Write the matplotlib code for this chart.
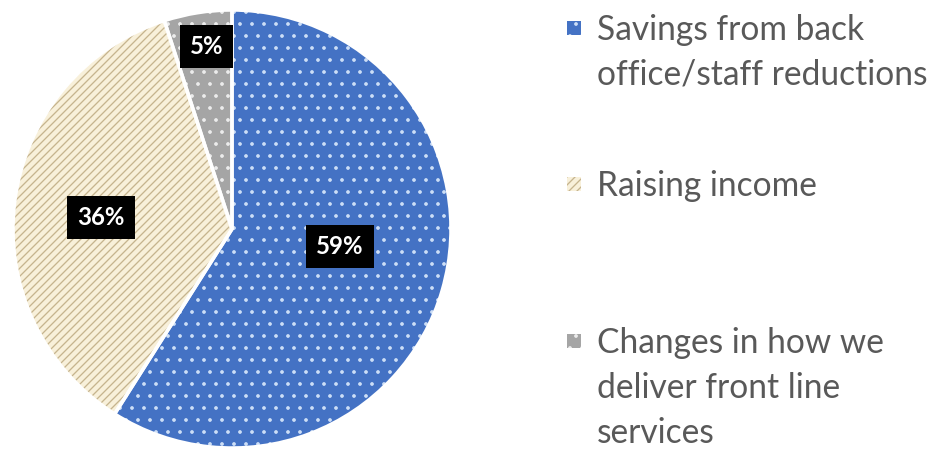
import matplotlib
matplotlib.use("Agg")
import matplotlib.pyplot as plt
import numpy as np
from matplotlib.patches import Rectangle

# ---- data ----
categories = ["Savings from back\noffice/staff reductions",
              "Raising income",
              "Changes in how we\ndeliver front line\nservices"]
values = [59, 36, 5]
pct_labels = ["59%", "36%", "5%"]

# ---- style ----
face_colors = ["#4472c4", "#f8f0da", "#a5a5a5"]
hatch_colors = ["#cfe0f7", "#c6b48e", "#eeeeee"]
hatches = [".", "///", "."]
text_color = "#595959"
FONT = "Lato"

# DPI 72 so that 1 pt == 1 px (also sets hatch tile size)
DPI = 72
W, H = 936, 452
fig = plt.figure(figsize=(W / DPI, H / DPI), dpi=DPI)
fig.patch.set_facecolor("white")
plt.rcParams["hatch.linewidth"] = 1.3

cx, cy, r = 232, 229, 219
ax = fig.add_axes([(cx - r) / W, (H - cy - r) / H, 2 * r / W, 2 * r / H])

wedges, _ = ax.pie(values, startangle=90, counterclock=False,
                   colors=face_colors, wedgeprops=dict(linewidth=0))
hw, _ = ax.pie(values, startangle=90, counterclock=False,
               colors=["none"] * 3, wedgeprops=dict(linewidth=0))
for w, hc, h in zip(hw, hatch_colors, hatches):
    w.set_hatch(h)
    w.set_edgecolor(hc)
    w.set_facecolor("none")
    w.set_linewidth(0)
ow, _ = ax.pie(values, startangle=90, counterclock=False,
               colors=["none"] * 3,
               wedgeprops=dict(edgecolor="white", linewidth=3.5))
ax.set_xlim(-1, 1)
ax.set_ylim(-1, 1)
ax.set_aspect("equal")
ax.axis("off")

# label placement (distance from centre, angular nudge in degrees)
label_dist = [0.50, 0.60, 0.84]
label_nudge = [7.0, 2.0, -1.0]
for w, lab, d, nd in zip(wedges, pct_labels, label_dist, label_nudge):
    ang = np.deg2rad((w.theta1 + w.theta2) / 2 + nd)
    ax.text(d * np.cos(ang), d * np.sin(ang), lab, color="white",
            fontsize=24, fontfamily=FONT, fontweight="bold",
            ha="center", va="center",
            bbox=dict(boxstyle="square,pad=0.42", facecolor="black",
                      edgecolor="none"))

# ---- legend (manual, to reproduce spacing) ----
marker_centers = [28, 184, 341]  # px from top
text_x = 597
line_pitch = 45
cap_half = 12
for cat, mc, fc, hc, h in zip(categories, marker_centers, face_colors,
                              hatch_colors, hatches):
    mx, mw = 567, 14
    rect = Rectangle((mx / W, (H - mc - mw / 2) / H), mw / W, mw / H,
                     transform=fig.transFigure, facecolor=fc,
                     edgecolor=hc, hatch=h, linewidth=0)
    fig.add_artist(rect)
    for i, line in enumerate(cat.split("\n")):
        base = mc + cap_half + i * line_pitch
        fig.text(text_x / W, (H - base) / H, line, color=text_color,
                 fontsize=33.5, fontfamily=FONT, ha="left", va="baseline")

fig.savefig("out.png", dpi=DPI, facecolor="white")
